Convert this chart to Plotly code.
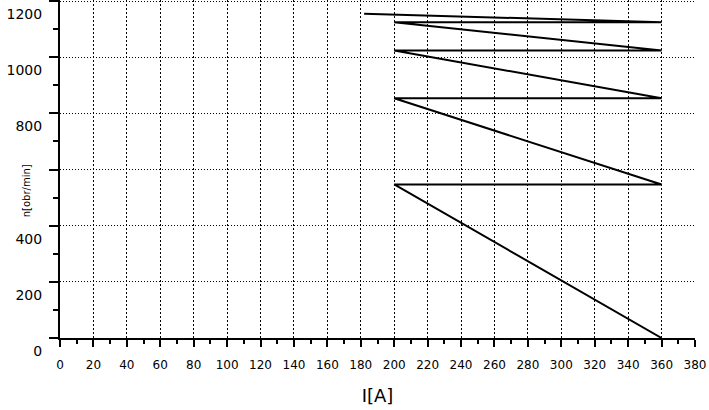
import plotly.graph_objects as go

# Data (current I[A] vs speed n[obr/min])
current_a = [182, 360, 200, 360, 200, 360, 200, 360, 200, 360]
speed_rpm = [1155, 1125, 1125, 1024, 1024, 854, 854, 547, 547, 0]

x_tick_vals = list(range(0, 381, 20))
x_tick_text = [str(v) for v in x_tick_vals]
y_tick_vals = [0, 200, 400, 600, 800, 1000, 1200]
y_tick_text = ["0", "200", "400", "", "800", "1000", "1200"]

fig = go.Figure()
fig.add_trace(go.Scatter(
    x=current_a, y=speed_rpm, mode="lines",
    line=dict(color="black", width=2), showlegend=False, hoverinfo="skip",
))

fig.update_layout(
    width=709, height=410,
    margin=dict(l=60, r=14, t=0, b=72, autoexpand=False),
    paper_bgcolor="white", plot_bgcolor="white",
    font=dict(family="DejaVu Sans, Arial, sans-serif", color="black"),
    showlegend=False,
)

fig.update_xaxes(
    range=[0, 380], automargin=False,
    tickmode="array", tickvals=x_tick_vals, ticktext=x_tick_text,
    tickfont=dict(size=12),
    ticks="outside", ticklen=7, tickwidth=2, tickcolor="black",
    ticklabelstandoff=8,
    minor=dict(dtick=10, tick0=0, ticks="outside", ticklen=4, tickwidth=2,
               tickcolor="black", showgrid=False),
    showline=True, linecolor="black", linewidth=2,
    showgrid=True, gridcolor="black", gridwidth=1, griddash="2px,2px",
    zeroline=False,
    title=dict(text="I[A]", font=dict(size=18), standoff=18),
)

fig.update_yaxes(
    range=[0, 1204], automargin=False,
    tickmode="array", tickvals=y_tick_vals, ticktext=y_tick_text,
    tickfont=dict(size=14),
    ticks="outside", ticklen=9, tickwidth=2, tickcolor="black",
    ticklabelshift=13, ticklabelstandoff=4,
    minor=dict(dtick=100, tick0=0, ticks="outside", ticklen=5, tickwidth=2,
               tickcolor="black", showgrid=False),
    showline=True, linecolor="black", linewidth=2,
    showgrid=True, gridcolor="black", gridwidth=1, griddash="1px,2px",
    zeroline=False,
)

fig.add_annotation(
    text="n[obr/min]", xref="paper", yref="paper",
    x=(26 - 60) / 635, y=(337.7 - 191) / 338, xanchor="center", yanchor="middle",
    textangle=-90, showarrow=False,
    font=dict(size=10, color="black"),
)

fig.write_html(
    "out.html",
    config={"displayModeBar": False},
    post_script="document.body.style.margin='0px';document.body.style.overflow='hidden';",
)
